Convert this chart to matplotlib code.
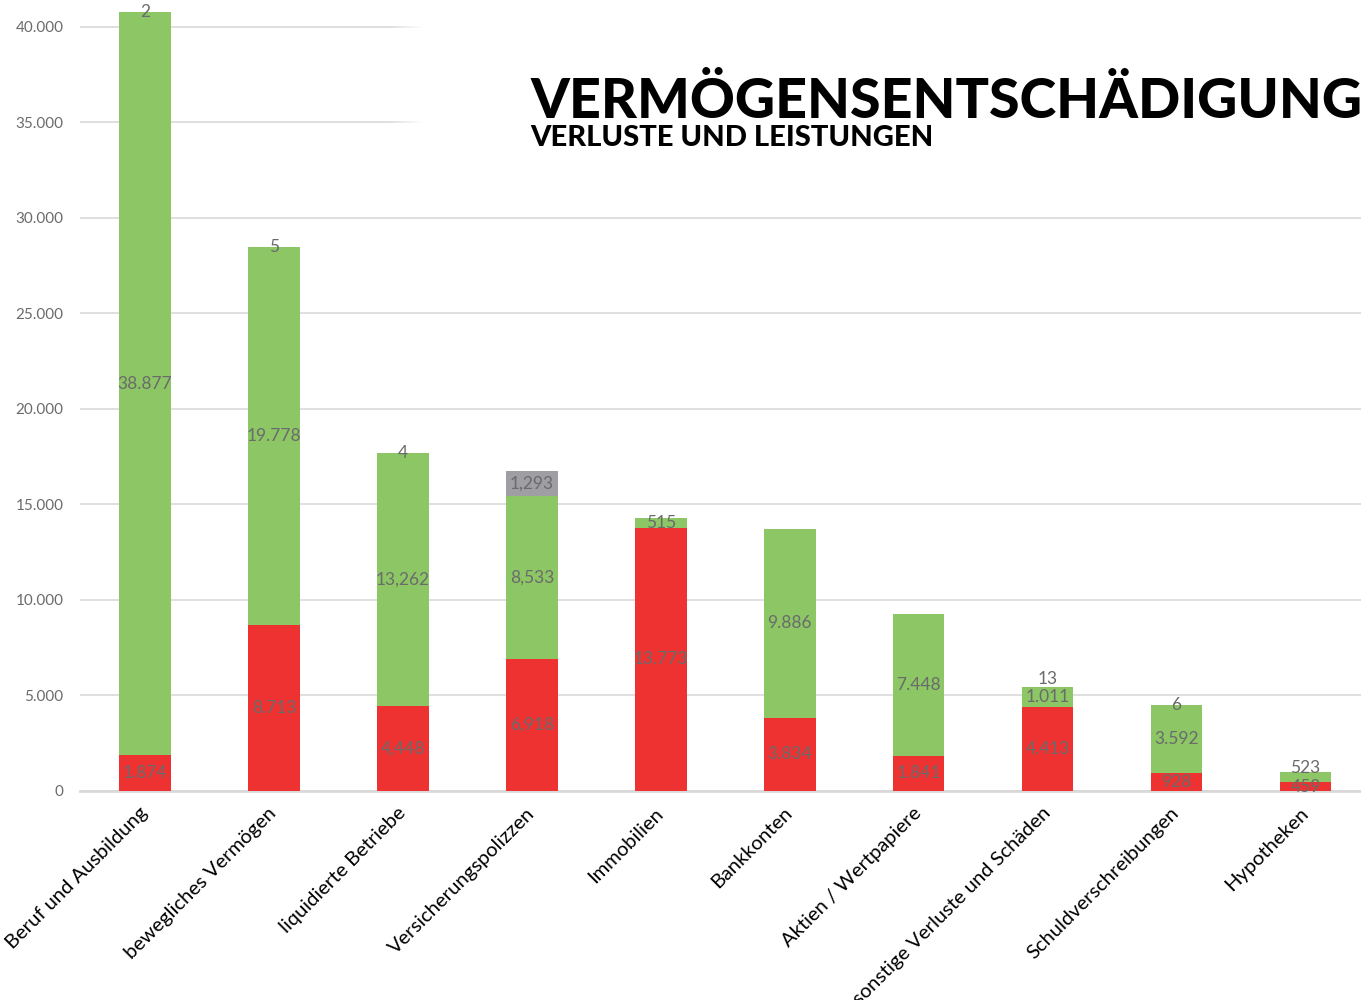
import matplotlib
matplotlib.use("Agg")
import matplotlib.pyplot as plt
import numpy as np

categories = ["Beruf und Ausbildung", "bewegliches Vermögen", "liquidierte Betriebe",
              "Versicherungspolizzen", "Immobilien", "Bankkonten", "Aktien / Wertpapiere",
              "sonstige Verluste und Schäden", "Schuldverschreibungen", "Hypotheken"]
red_values = [1874, 8713, 4448, 6918, 13773, 3834, 1841, 4413, 928, 459]
green_values = [38877, 19778, 13262, 8533, 515, 9886, 7448, 1011, 3592, 523]
top_values = [2, 5, 4, 1293, 0, 0, 0, 13, 6, 0]
comma_labels = {"liquidierte Betriebe", "Versicherungspolizzen"}
yticks = [0, 5000, 10000, 15000, 20000, 25000, 30000, 35000, 40000]

RED = "#ee3131"
GREEN = "#8cc665"
GRAY = "#9e9ea3"
LABEL = "#6b6b6b"
GRID = "#d9d9d9"

plt.rcParams["font.family"] = ["Lato", "DejaVu Sans"]

W, H = 1361, 1000
fig = plt.figure(figsize=(W / 100, H / 100), dpi=100)
ax = fig.add_axes([80 / W, 1 - 791 / H, 1 - 80 / W, 791 / H])

x = np.arange(len(categories))
width = 0.40
red = np.array(red_values, float)
green = np.array(green_values, float)
top = np.array(top_values, float)

ax.bar(x, green, width, bottom=red, color=GREEN, zorder=3)
ax.bar(x, top, width, bottom=red + green, color=GRAY, zorder=3)
ax.bar(x, red, width, color=RED, zorder=4)

ax.set_yticks(yticks)
ax.set_yticklabels([f"{v:,}".replace(",", ".") for v in yticks], color=LABEL, fontsize=11)
ax.tick_params(axis="y", length=0, pad=12)
ax.tick_params(axis="x", length=0, pad=14)
ax.set_xticks(x)
ax.set_xticklabels(categories, rotation=45, ha="right", va="center", rotation_mode="anchor",
                   fontsize=14.5, color="black")
ax.grid(axis="y", color=GRID, linewidth=1.2, zorder=0)
ax.set_axisbelow(True)
for s in ["top", "right", "left"]:
    ax.spines[s].set_visible(False)
ax.spines["bottom"].set_color(GRID)
ax.spines["bottom"].set_linewidth(2)

# white fading panel behind the title
grad = np.ones((2, 200, 4))
ramp = np.clip(np.linspace(0, 1, 200) / 0.035, 0, 1)
grad[:, :, 3] = ramp[None, :]
ax.imshow(grad, extent=(0.240, 1.0, 1 - 160 / 791, 1.0), transform=ax.transAxes,
          aspect="auto", zorder=2, interpolation="bilinear")
ax.set_xlim(-0.504, 9.43)
ax.set_ylim(0, 41400)


def fmt(v, cat):
    s = f"{int(v):,}"
    return s if cat in comma_labels else s.replace(",", ".")


min_gap = 950
for i, cat in enumerate(categories):
    segs = [(0, red[i]), (red[i], green[i]), (red[i] + green[i], top[i])]
    prev = None
    for b, h in segs:
        if h <= 0:
            continue
        c = b + h / 2
        if prev is not None and c - prev < min_gap:
            c = prev + min_gap
        ax.text(x[i], c, fmt(h, cat), ha="center", va="center", color=LABEL,
                fontsize=12.5, zorder=6)
        prev = c

fig.text(530 / W, 1 - 118 / H, "VERMÖGENSENTSCHÄDIGUNG", fontsize=40, fontweight="black",
         color="black", ha="left", va="baseline")
fig.text(530 / W, 1 - 146 / H, "VERLUSTE UND LEISTUNGEN", fontsize=21, fontweight="black",
         color="black", ha="left", va="baseline")

fig.savefig("out.png", dpi=100)
